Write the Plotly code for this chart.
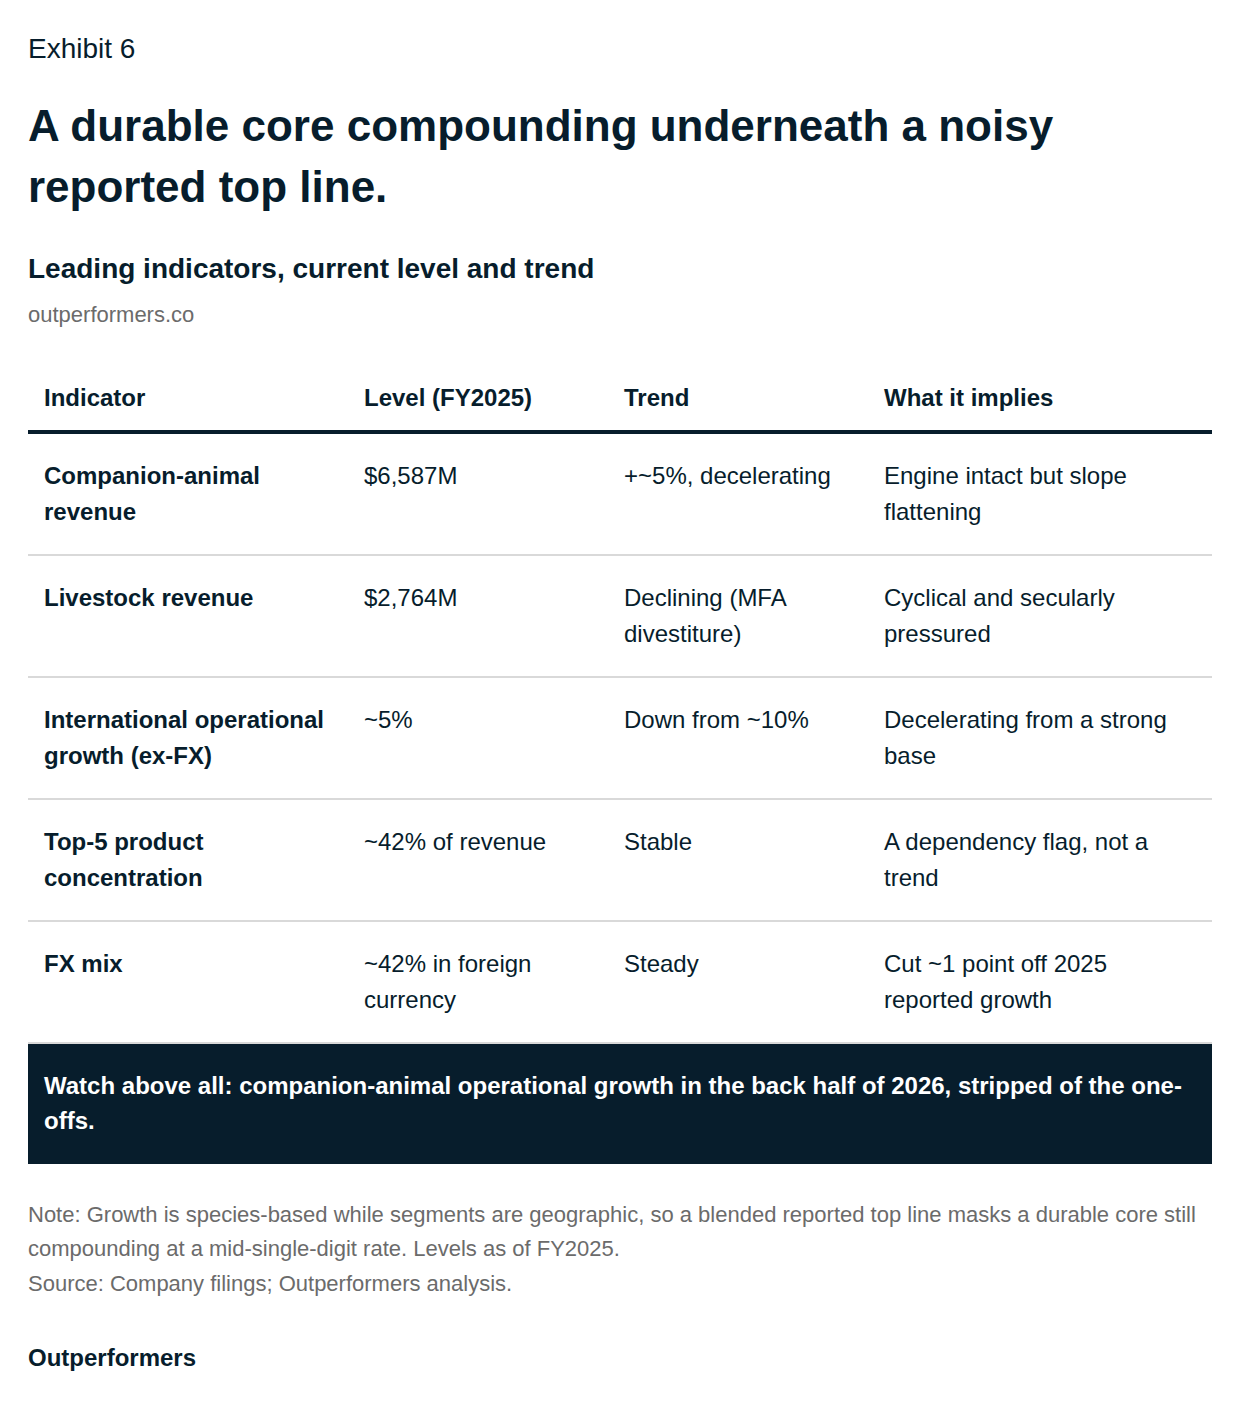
import plotly.graph_objects as go

# table content (line breaks follow the wrapping in the reference)
headers = ["Indicator", "Level (FY2025)", "Trend", "What it implies"]
indicators = [
    "Companion-animal\nrevenue",
    "Livestock revenue",
    "International operational\ngrowth (ex-FX)",
    "Top-5 product\nconcentration",
    "FX mix",
]
levels = ["$6,587M", "$2,764M", "~5%", "~42% of revenue", "~42% in foreign\ncurrency"]
trends = ["+~5%, decelerating", "Declining (MFA\ndivestiture)", "Down from ~10%", "Stable", "Steady"]
implications = [
    "Engine intact but slope\nflattening",
    "Cyclical and secularly\npressured",
    "Decelerating from a strong\nbase",
    "A dependency flag, not a\ntrend",
    "Cut ~1 point off 2025\nreported growth",
]

exhibit = "Exhibit 6"
title_lines = ["A durable core compounding underneath a noisy", "reported top line."]
subtitle = "Leading indicators, current level and trend"
site = "outperformers.co"
callout_lines = [
    "Watch above all: companion-animal operational growth in the back half of 2026, stripped of the one-",
    "offs.",
]
note_lines = [
    "Note: Growth is species-based while segments are geographic, so a blended reported top line masks a durable core still",
    "compounding at a mid-single-digit rate. Levels as of FY2025.",
    "Source: Company filings; Outperformers analysis.",
]
brand = "Outperformers"

# page is 1240x1406 with the default 8px body margin around the plot
PAGE_W, PAGE_H, BODY = 1240, 1406, 8
W, H = PAGE_W - 2 * BODY, PAGE_H - 2 * BODY
NAVY = "#071d2c"
GRAY = "#6b6b6b"
RULE = "#d9d9d9"
FONT = "Liberation Sans, Arial, sans-serif"
PAD = 2  # annotation inner padding

col_x = [44, 364, 624, 884]
left, right = 28, 1212
head_y = 397
row_top = 434
row_h = 122
line_h = 36

fig = go.Figure()
ann = []


def txt(x, y, s, size, color=NAVY, bold=False):
    if bold:
        s = f"<b>{s}</b>"
    ann.append(dict(x=x - PAD, y=y, text=s, xref="x", yref="y", xanchor="left", yanchor="middle",
                    showarrow=False, font=dict(family=FONT, size=size, color=color)))


# heading block
txt(left, 48, exhibit, 28)
for i, t in enumerate(title_lines):
    txt(left, 125 + i * 61, t, 44, bold=True)
txt(left, 268, subtitle, 28, bold=True)
txt(left, 314, site, 22, color=GRAY)

# table header
for x, h in zip(col_x, headers):
    txt(x, head_y, h, 24, bold=True)
shapes = [dict(type="line", xref="x", yref="y", x0=left, x1=right, y0=432, y1=432,
               line=dict(color=NAVY, width=4))]

# table rows
cols = [indicators, levels, trends, implications]
for r in range(len(indicators)):
    y0 = row_top + r * row_h + 41
    for c, col in enumerate(cols):
        for k, line in enumerate(col[r].split("\n")):
            txt(col_x[c], y0 + k * line_h, line, 24, bold=(c == 0))
    sep = row_top + (r + 1) * row_h - 1
    shapes.append(dict(type="line", xref="x", yref="y", x0=left, x1=right, y0=sep, y1=sep,
                       line=dict(color=RULE, width=2)))

# callout box
shapes.append(dict(type="rect", xref="x", yref="y", x0=left, x1=right, y0=1044, y1=1164,
                   fillcolor=NAVY, line_width=0))
for i, t in enumerate(callout_lines):
    txt(44, 1085 + i * 35, t, 24, color="white", bold=True)

# notes and brand
for i, t in enumerate(note_lines):
    txt(left, 1214 + i * 34.5, t, 22, color=GRAY)
txt(left, 1357, brand, 24, bold=True)

fig.update_layout(
    width=W, height=H,
    margin=dict(l=0, r=0, t=0, b=0),
    paper_bgcolor="white", plot_bgcolor="white",
    xaxis=dict(range=[BODY, BODY + W], visible=False, fixedrange=True),
    yaxis=dict(range=[BODY + H, BODY], visible=False, fixedrange=True),
    annotations=ann, shapes=shapes,
    showlegend=False,
)

fig.write_html("out.html", config={"displayModeBar": False})
